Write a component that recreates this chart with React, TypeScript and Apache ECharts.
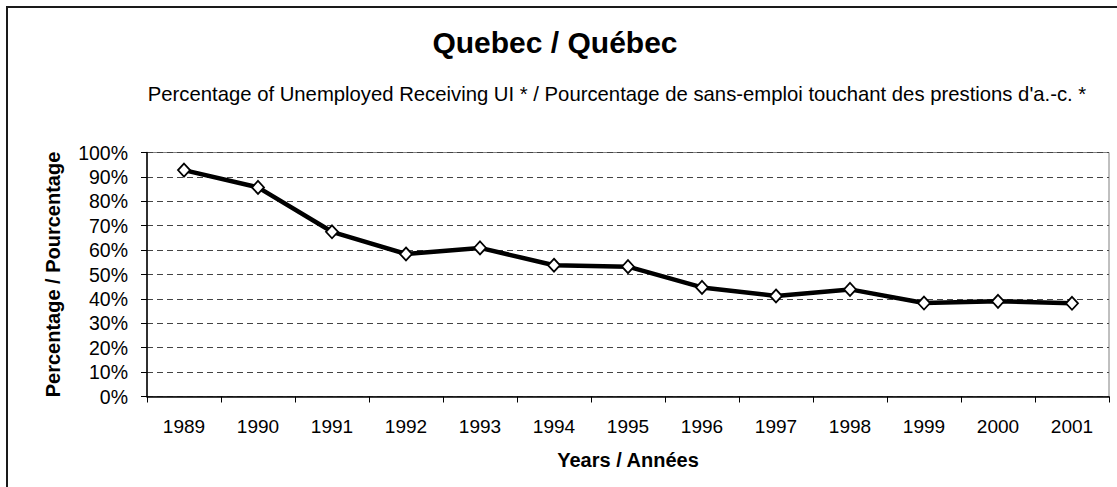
import React, { useEffect, useRef } from "react";
import * as echarts from "echarts";

const years = ["1989", "1990", "1991", "1992", "1993", "1994", "1995", "1996", "1997", "1998", "1999", "2000", "2001"];
const percentReceivingUI = [92.8, 85.7, 67.5, 58.4, 60.9, 53.8, 53.2, 44.7, 41.2, 43.9, 38.3, 39.0, 38.2];
const titleText = "Quebec / Québec";
const subtitleText = "Percentage of Unemployed Receiving UI * / Pourcentage de sans-emploi touchant des prestions d'a.-c. *";
const xAxisName = "Years / Années";
const yAxisName = "Percentage / Pourcentage";

const FONT = "'Liberation Sans', Arial, Helvetica, sans-serif";

export default function App() {
  const ref = useRef<HTMLDivElement>(null);
  useEffect(() => {
    if (!ref.current) return;
    const chart = echarts.init(ref.current, undefined, { renderer: "svg" });
    chart.setOption({
      animation: false,
      backgroundColor: "#ffffff",
      textStyle: { fontFamily: FONT },
      graphic: [
        {
          type: "rect",
          shape: { x: 7, y: 7, width: 1200, height: 600 },
          style: { fill: "none", stroke: "#1a1a1a", lineWidth: 2 },
          silent: true,
          z: 100,
        },
        {
          type: "text",
          x: 555,
          y: 42,
          style: {
            text: titleText,
            fontFamily: FONT,
            fontSize: 30,
            fontWeight: "bold",
            fill: "#000",
            textAlign: "center",
            textVerticalAlign: "middle",
          },
        },
        {
          type: "text",
          x: 617,
          y: 94,
          style: {
            text: subtitleText,
            fontFamily: FONT,
            fontSize: 20.3,
            fill: "#000",
            textAlign: "center",
            textVerticalAlign: "middle",
          },
        },
      ],
      grid: {
        left: 147,
        right: 8,
        top: 152.5,
        bottom: 90.5,
        show: true,
        borderColor: "#808080",
        borderWidth: 1,
        backgroundColor: "#ffffff",
      },
      xAxis: {
        type: "category",
        data: years,
        boundaryGap: true,
        name: xAxisName,
        nameLocation: "middle",
        nameGap: 53,
        nameTextStyle: { fontFamily: FONT, fontSize: 20, fontWeight: "bold", color: "#000" },
        axisLine: { show: true, lineStyle: { color: "#000", width: 1.5 } },
        axisTick: { show: true, length: 6, lineStyle: { color: "#000", width: 1 } },
        axisLabel: { fontFamily: FONT, fontSize: 19, color: "#000", margin: 20 },
        splitLine: { show: false },
      },
      yAxis: {
        type: "value",
        min: 0,
        max: 100,
        interval: 10,
        name: yAxisName,
        nameLocation: "middle",
        nameGap: 84,
        nameRotate: 90,
        nameTextStyle: { fontFamily: FONT, fontSize: 20, fontWeight: "bold", color: "#000" },
        axisLine: { show: true, lineStyle: { color: "#000", width: 1.5 } },
        axisTick: { show: true, length: 6, inside: false, lineStyle: { color: "#000", width: 1 } },
        axisLabel: {
          fontFamily: FONT,
          fontSize: 19.5,
          color: "#000",
          margin: 19,
          formatter: (v: number) => `${v}%`,
        },
        splitLine: { show: true, lineStyle: { color: "#444", width: 1, type: [6, 4] } },
      },
      series: [
        {
          type: "line",
          data: percentReceivingUI,
          symbol: "diamond",
          symbolSize: [12, 13],
          showAllSymbol: true,
          lineStyle: { color: "#000", width: 4.5 },
          itemStyle: { color: "#ffffff", borderColor: "#000", borderWidth: 1.8 },
          z: 5,
        },
      ],
    });
    return () => chart.dispose();
  }, []);
  return (
    <div
      ref={ref}
      style={{ position: "fixed", left: 0, top: 0, width: 1117, height: 487 }}
    />
  );
}
